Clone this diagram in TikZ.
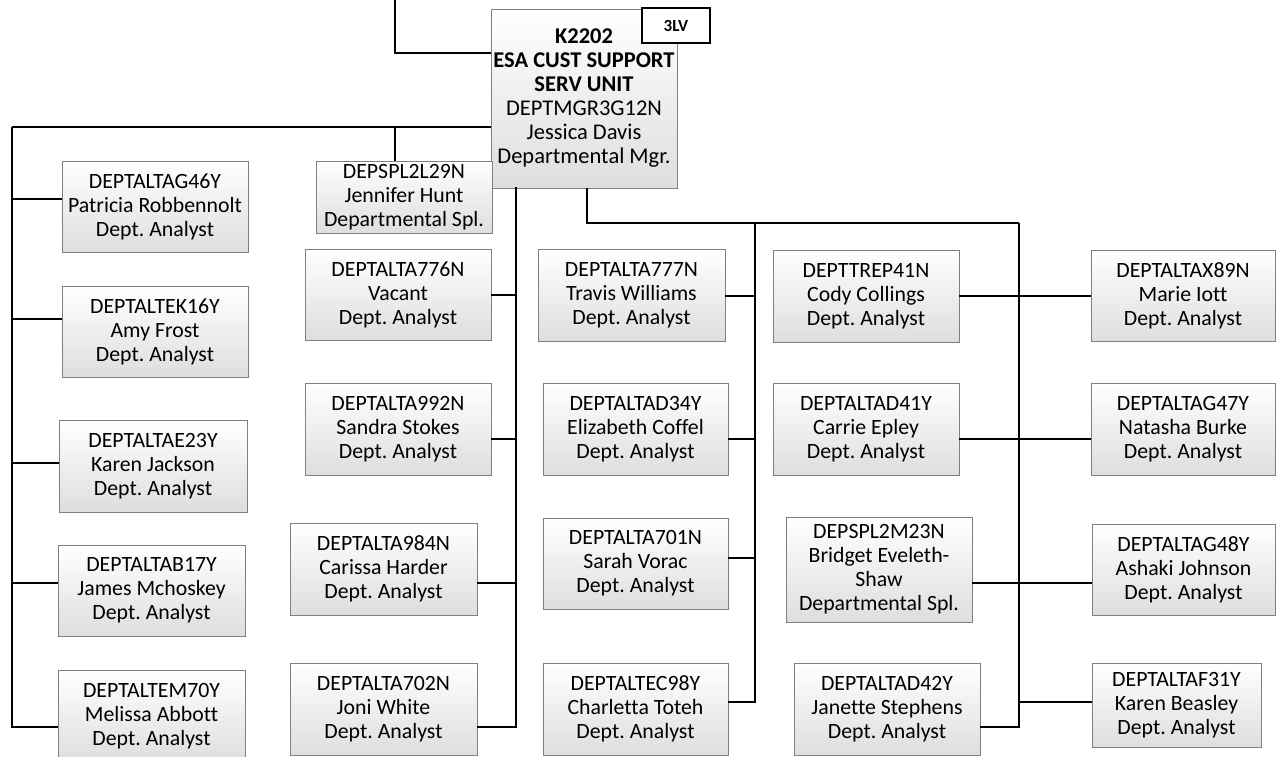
\documentclass[tikz,border=0pt]{standalone}
\usepackage{fontspec}
\setmainfont[Ligatures=NoCommon]{Carlito}
\frenchspacing

\tikzset{
  staff/.style={draw=gray, line width=0.8pt, top color=white, bottom color=black!13,
    minimum width=186pt, minimum height=91pt, inner sep=1pt, align=center,
    font=\fontsize{21.8}{24}\selectfont},
  link/.style={line width=2pt},
}

\begin{document}
\begin{tikzpicture}[x=1pt, y=-1pt]
        \useasboundingbox (0,0) rectangle (1276,756);
        \clip (0,0) rectangle (1276,756);

        % Bus corners
        \coordinate (feed) at (395,0);
        \coordinate (lbus) at (12,127);
        \coordinate (mbus) at (516,187);
        \coordinate (rb1) at (755,223);
        \coordinate (rb2) at (1019,223);

        % Unit head
        \node[staff, minimum height=179pt, font=\fontsize{22.5}{24}\selectfont] (boss) at (584,98.5)
          {\textbf{K2202}\\\textbf{ESA CUST SUPPORT}\\\textbf{SERV UNIT}\\DEPTMGR3G12N\\Jessica Davis\\Departmental Mgr.};
        \node[draw, line width=1.2pt, fill=white, minimum width=68pt, minimum height=35pt, inner sep=0pt,
          font=\bfseries\fontsize{17}{18}\selectfont] (lv) at (676,25.5) {3LV};

        % Left column
        \node[staff] (ag46) at (155,206.5) {DEPTALTAG46Y\\Patricia Robbennolt\\Dept. Analyst};
        \node[staff] (ek16) at (155,331.5) {DEPTALTEK16Y\\Amy Frost\\Dept. Analyst};
        \node[staff, minimum width=188pt, minimum height=92pt] (ae23) at (153,466) {DEPTALTAE23Y\\Karen Jackson\\Dept. Analyst};
        \node[staff, minimum width=187pt] (ab17) at (151.5,590.5) {DEPTALTAB17Y\\James Mchoskey\\Dept. Analyst};
        \node[staff, minimum width=187pt, minimum height=92pt] (em70) at (151.5,716) {DEPTALTEM70Y\\Melissa Abbott\\Dept. Analyst};

        % Second column
        \node[staff, minimum width=176pt, minimum height=72pt] (l29) at (404,197) {DEPSPL2L29N\\Jennifer Hunt\\Departmental Spl.};
        \node[staff] (a776) at (398,294.5) {DEPTALTA776N\\Vacant\\Dept. Analyst};
        \node[staff, minimum height=92pt] (a992) at (398,429) {DEPTALTA992N\\Sandra Stokes\\Dept. Analyst};
        \node[staff, minimum width=187pt, minimum height=92pt] (a984) at (383.5,569) {DEPTALTA984N\\Carissa Harder\\Dept. Analyst};
        \node[staff, minimum width=187pt, minimum height=92pt] (a702) at (383.5,709) {DEPTALTA702N\\Joni White\\Dept. Analyst};

        % Third column
        \node[staff, minimum width=187pt, minimum height=92pt] (a777) at (631.5,295) {DEPTALTA777N\\Travis Williams\\Dept. Analyst};
        \node[staff, minimum width=185pt, minimum height=92pt] (ad34) at (635.5,429) {DEPTALTAD34Y\\Elizabeth Coffel\\Dept. Analyst};
        \node[staff, minimum width=185pt] (a701) at (635.5,563.5) {DEPTALTA701N\\Sarah Vorac\\Dept. Analyst};
        \node[staff, minimum width=185pt, minimum height=92pt] (ec98) at (635.5,709) {DEPTALTEC98Y\\Charletta Toteh\\Dept. Analyst};

        % Fourth column
        \node[staff, minimum height=92pt] (ep41) at (866,296) {DEPTTREP41N\\Cody Collings\\Dept. Analyst};
        \node[staff, minimum height=92pt] (ad41) at (866,429) {DEPTALTAD41Y\\Carrie Epley\\Dept. Analyst};
        \node[staff, minimum height=105pt] (m23) at (879,569.5) {DEPSPL2M23N\\Bridget Eveleth-\\Shaw\\Departmental Spl.};
        \node[staff, minimum height=92pt] (ad42) at (887,709) {DEPTALTAD42Y\\Janette Stephens\\Dept. Analyst};

        % Right column
        \node[staff, minimum width=184pt] (ax89) at (1183,295.5) {DEPTALTAX89N\\Marie Iott\\Dept. Analyst};
        \node[staff, minimum width=184pt, minimum height=92pt] (ag47) at (1183,429) {DEPTALTAG47Y\\Natasha Burke\\Dept. Analyst};
        \node[staff, minimum width=183pt] (ag48) at (1183.5,569.5) {DEPTALTAG48Y\\Ashaki Johnson\\Dept. Analyst};
        \node[staff, minimum width=169pt, minimum height=84pt] (af31) at (1176.5,705) {DEPTALTAF31Y\\Karen Beasley\\Dept. Analyst};

        % Feed from above
        \draw[link] (feed) |- ([yshift=45.5pt]boss.west);

        % Left bus
        \draw[link] ([yshift=-28.5pt]boss.west) -- (lbus);
        \draw[link] ([xshift=-9pt]l29.north) |- (lbus);
        \draw[link] ([yshift=7.5pt]ag46.west) -| (lbus);
        \draw[link] ([yshift=12.5pt]ek16.west) -| (lbus);
        \draw[link] ([yshift=3pt]ae23.west) -| (lbus);
        \draw[link] ([yshift=7.5pt]ab17.west) -| (lbus);
        \draw[link] ([yshift=-11pt]em70.west) -| (lbus);

        % Middle bus
        \draw[link] (a776.east) -| (mbus);
        \draw[link] ([yshift=-10pt]a992.east) -| (mbus);
        \draw[link] ([yshift=-14pt]a984.east) -| (mbus);
        \draw[link] ([yshift=-18pt]a702.east) -| (mbus);

        % Right bus
        \draw[link] ([xshift=3pt]boss.south) |- (rb2);
        \draw[link] ([yshift=-1pt]a777.east) -| (rb1);
        \draw[link] ([yshift=-10pt]ad34.east) -| (rb1);
        \draw[link] ([yshift=5.5pt]a701.east) -| (rb1);
        \draw[link] ([yshift=7pt]ec98.east) -| (rb1);

        \draw[link] (ep41.east) -| (rb2);
        \draw[link] (ax89.west) -| (rb2);
        \draw[link] ([yshift=-10pt]ad41.east) -| (rb2);
        \draw[link] ([yshift=-10pt]ag47.west) -| (rb2);
        \draw[link] ([yshift=-13.5pt]m23.east) -| (rb2);
        \draw[link] ([yshift=-13.5pt]ag48.west) -| (rb2);
        \draw[link] ([yshift=-18pt]ad42.east) -| (rb2);
        \draw[link] ([yshift=3pt]af31.west) -| (rb2);
      \end{tikzpicture}
\end{document}
